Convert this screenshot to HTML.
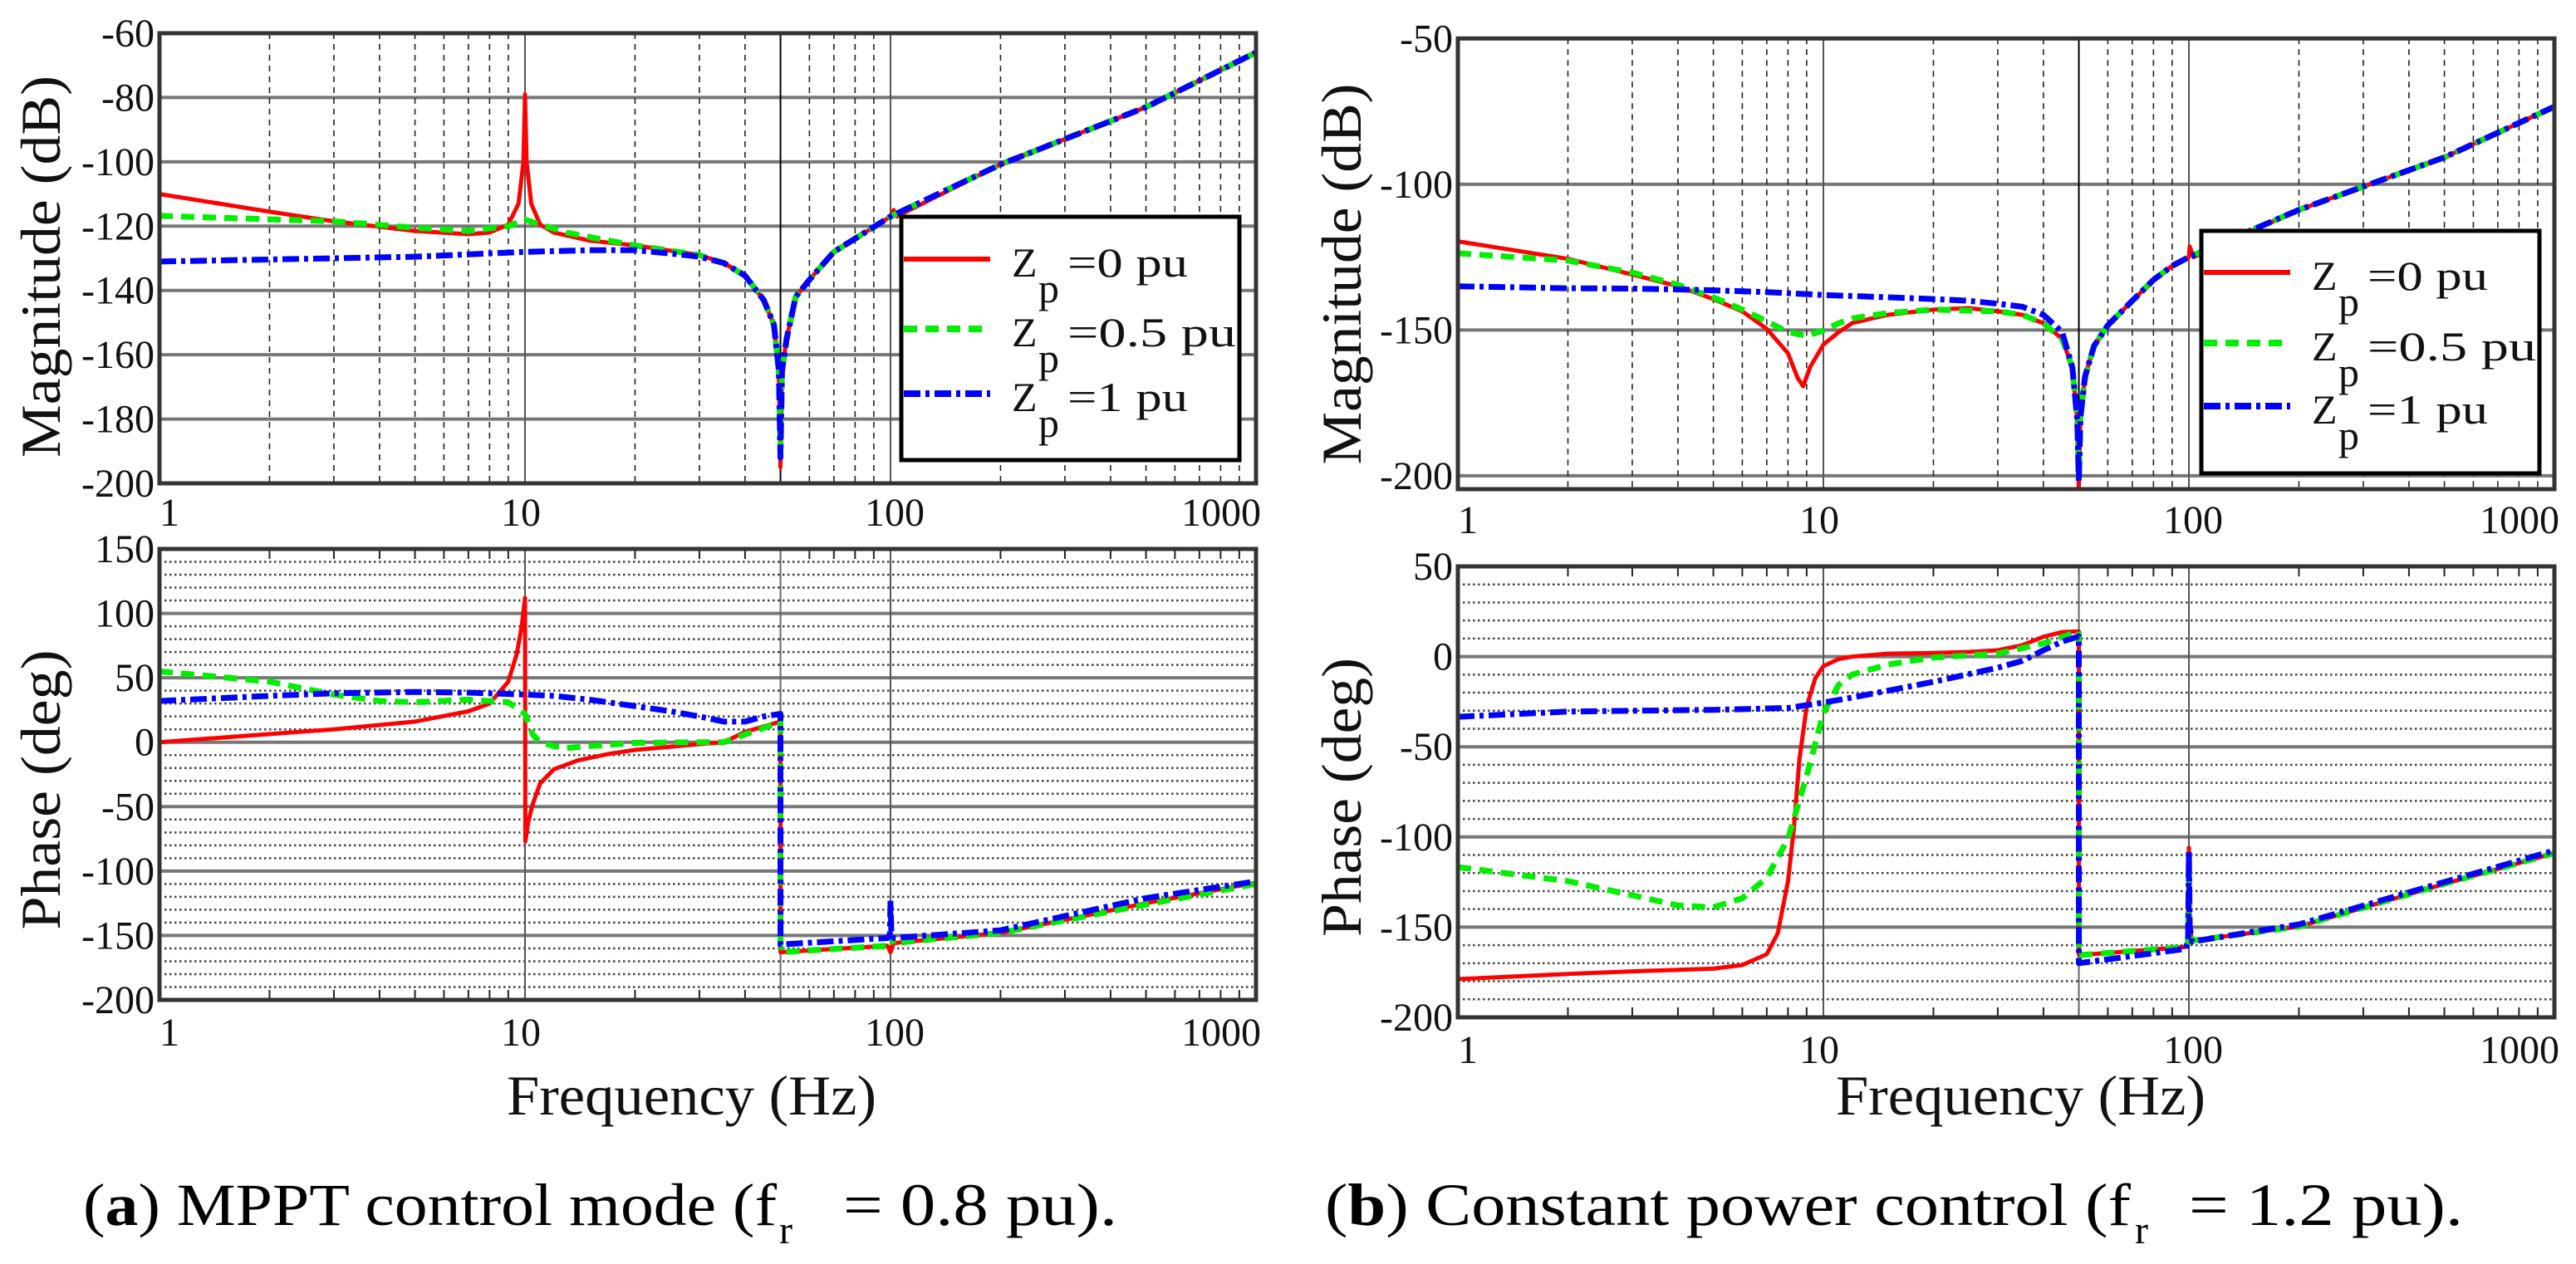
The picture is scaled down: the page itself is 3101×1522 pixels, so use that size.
<!DOCTYPE html>
<html><head><meta charset="utf-8"><style>
html,body{margin:0;padding:0;background:#fff;}
svg{display:block;font-family:"Liberation Serif",serif;}
</style></head><body>
<svg id="fig" width="3101" height="1522" viewBox="0 0 3101 1522" xmlns="http://www.w3.org/2000/svg">
<rect x="0" y="0" width="3101" height="1522" fill="#fff"/>
<g id="layer"></g>
<text x="100" y="1475" font-size="72" textLength="835" lengthAdjust="spacingAndGlyphs">(<tspan font-weight="bold">a</tspan>) MPPT control mode (f</text>
<text x="938" y="1497" font-size="48">r</text>
<text x="1015" y="1475" font-size="72" textLength="330" lengthAdjust="spacingAndGlyphs">= 0.8 pu).</text>
<text x="1595" y="1475" font-size="72" textLength="970" lengthAdjust="spacingAndGlyphs">(<tspan font-weight="bold">b</tspan>) Constant power control (f</text>
<text x="2570" y="1497" font-size="48">r</text>
<text x="2635" y="1475" font-size="72" textLength="330" lengthAdjust="spacingAndGlyphs">= 1.2 pu).</text>
</svg>
<script>
// ===== Panel (a) magnitude data =====
const aMagRedF = [1,2,3,5,7,8,9,9.6,9.9,10,10.1,10.4,11,12,15,20,30,35,40,45,48,49.5,50,50.5,52,55,60,70,100,102,104,200,500,1000];
const aMagRedV = [-110,-115.5,-118.5,-121.5,-122.5,-122,-119.5,-113,-100,-79,-100,-113,-119.5,-122,-124.5,-126,-129,-131.5,-135.4,-143,-150.7,-165,-195,-165,-155,-142,-136.7,-128,-117,-115,-117,-100.8,-83,-66];
const aMagGreenF = [1,3,5,7,9,10,11,13,16,20,30,35,40,45,48,49.5,50,50.5,52,55,60,70,100,200,500,1000];
const aMagGreenV = [-116.8,-118.5,-120.5,-121.5,-120,-118,-119.5,-122,-124,-126,-129,-131.5,-135.4,-143,-150.7,-165,-190,-165,-155,-142,-136.7,-128,-117,-100.8,-83,-66];
const aMagBlueF = [1,3,5,10,15,20,25,30,35,40,45,48,49.5,50,50.5,52,55,60,70,100,200,500,1000];
const aMagBlueV = [-131,-130,-129.5,-128,-127.5,-127.5,-128.5,-129.5,-131.5,-135.4,-143,-150.7,-165,-192,-165,-155,-142,-136.7,-128,-117,-100.8,-83,-66];
// ===== Panel (a) phase data =====
const aPhRedF = [1,3,5,7,8,9,9.5,9.8,10,10.02,10.2,10.5,11,12,14,17,20,30,35,40,50,50.02,98,100,102,110,200,500,1000];
const aPhRedV = [0,10,16,24,30,47,69,90,112,-77,-62,-48,-32,-21,-14,-9,-6,-1.5,0,8,16,-163,-158,-163,-156,-155,-148,-125,-109];
const aPhGreenF = [1,2,3,4,5,7,9,10,10.5,11,12,13,15,20,30,35,40,45,50,50.02,98,100,102,110,200,500,1000];
const aPhGreenV = [55,47,37,32,31,33,31,22,6,0,-3,-4.5,-3,-0.5,0,0,6,11,16,-163,-158,-150,-157,-155,-148,-126,-110];
const aPhBlueF = [1,2,3,5,7,10,12,15,20,25,30,35,40,45,50,50.02,98,99.6,100,100.5,102,200,500,1000];
const aPhBlueV = [32,36,38,39,38.5,37,36,33,28,24,20,16,16,20,22,-157,-152,-150,-123,-148,-152,-146,-121,-108];
// ===== Panel (b) magnitude data =====
const bMagRedF = [1,2,3,4,5,6,7,8,8.5,8.8,9.2,10,11,12,15,20,25,30,35,40,45,48,49.5,50,50.5,52,55,60,70,80,90,100,100.5,103,200,500,1000];
const bMagRedV = [-119.6,-125.6,-131,-135,-139.4,-143.6,-149.6,-158,-166.4,-169.3,-162.7,-155,-150.8,-147.6,-144.8,-143,-142.5,-143.6,-144.8,-147.7,-153,-162.8,-180.7,-204.6,-180,-166,-155.5,-148.4,-140,-132.8,-128,-125,-121.4,-125,-108.8,-90.8,-73.4];
const bMagGreenF = [1,2,3,4,5,6,7,8,9,10,11,12,15,20,30,35,40,45,48,49.5,50,50.5,52,55,60,70,80,90,100,200,500,1000];
const bMagGreenV = [-123.7,-126.2,-130.3,-134.5,-138.8,-143,-147,-150.7,-152,-150.2,-147.7,-146,-144.2,-143,-143.6,-144.8,-147.7,-153,-162.8,-180.7,-200,-180,-166,-155.5,-148.4,-140,-132.8,-128,-125,-108.8,-90.8,-73.4];
const bMagBlueF = [1,2,3,4,5,7,10,15,20,25,30,35,40,45,48,49.5,50,50.5,52,55,60,70,80,90,100,200,500,1000];
const bMagBlueV = [-135,-135.7,-135.8,-136.1,-136.4,-137,-138,-138.8,-139.4,-140,-141,-142,-144.8,-150.7,-162.8,-180.7,-202,-180,-166,-155.5,-148.4,-140,-132.8,-128,-125,-108.8,-90.8,-73.4];
// ===== Panel (b) phase data =====
const bPhRedF = [1,2,3,5,6,7,7.5,8,8.3,8.6,9,9.5,10,11,12,15,20,25,30,35,40,45,50,50.02,98,99.5,100,100.5,102,200,500,1000];
const bPhRedV = [-178.8,-175.9,-174.5,-173,-171,-165,-153.5,-124.5,-95.5,-56.7,-27.6,-12,-5.3,-1.4,0,1.6,2,2.6,3.5,6.3,11,13.6,14,-165.5,-161,-158,-106,-150,-157.5,-149.7,-126,-109];
const bPhGreenF = [1,2,3,4,5,6,7,8,9,10,11,12,15,20,30,40,50,50.02,98,99.5,100,100.5,102,200,500,1000];
const bPhGreenV = [-116.7,-124.5,-132.3,-138,-139,-134,-122.6,-101,-66,-31.5,-15.8,-10,-4.4,-0.5,1.6,7.3,14,-165.5,-161,-158,-110,-150,-157.5,-149.7,-126,-109];
const bPhBlueF = [1,2,3,5,8,10,12,15,20,30,35,40,45,50,50.02,98,99.5,100,100.5,102,200,500,1000];
const bPhBlueV = [-33.4,-30.5,-30,-29.5,-28.5,-25.5,-22.7,-18.9,-14,-6.2,-2.4,3.5,8.3,11.2,-170,-162,-158,-108,-150,-158,-148.5,-125,-107.5];
// ===== Axis ticks =====
const xTickVals = [1,10,100,1000];
const xTickLabels = ["1","10","100","1000"];
const aMagYTicks = [-60,-80,-100,-120,-140,-160,-180,-200];
const aPhYTicks = [150,100,50,0,-50,-100,-150,-200];
const bMagYTicks = [-50,-100,-150,-200];
const bPhYTicks = [50,0,-50,-100,-150,-200];
const legendLabels = ["=0 pu","=0.5 pu","=1 pu"];

const NS = "http://www.w3.org/2000/svg";
const layer = document.getElementById('layer');
function mk(tag, attrs, parent){
  const e = document.createElementNS(NS, tag);
  for (const k in attrs) e.setAttribute(k, attrs[k]);
  (parent||layer).appendChild(e);
  return e;
}
const STY = [
  {stroke:'#ff0000', w:5, dash:''},
  {stroke:'#00ee00', w:7, dash:'16 10'},
  {stroke:'#0000ff', w:7, dash:'20 6 5 6'}
];
function panel(p){
  const g = mk('g', {});
  
  
  const xs = f => p.x0 + (p.x1 - p.x0) * Math.log10(f) / 3;
  const ys = v => p.y0 + (p.vTop - v) / (p.vTop - p.vBot) * (p.y1 - p.y0);
  if (p.phase){
    for (let v = p.vBot; v <= p.vTop; v += 10){
      if (v % 50 === 0) continue;
      const l = mk('line', {x1:p.x0, x2:p.x1, y1:ys(v), y2:ys(v), stroke:'#444', 'stroke-width':2.5, 'stroke-dasharray':'2.5 3.5'}, g);
      
      
    }
  }
  p.yTicks.forEach(v => {
    const y = ys(v);
    const l = mk('line', {x1:p.x0, x2:p.x1, y1:y, y2:y, stroke:'#777', 'stroke-width':4}, g);
    
    
    const t = mk('text', {x:p.x0 - 6, y:y + 16, 'text-anchor':'end', 'font-size':48, fill:'#111'}, g);
    t.textContent = String(v);
    
    
  });
  [1,10,100].forEach(d => {
    for (let m = 2; m <= 9; m++){
      const x = xs(d*m);
      if (!p.phase){
        if (m !== 5 || d !== 10){
          const l = mk('line', {x1:x, x2:x, y1:p.y0, y2:p.y1, stroke:'#222', 'stroke-width':1.6, 'stroke-dasharray':'7 6'}, g);
          
          
        }
      } else {
        const l1 = mk('line', {x1:x, x2:x, y1:p.y0, y2:p.y0 + 12, stroke:'#222', 'stroke-width':2}, g);
        
        
        const l2 = mk('line', {x1:x, x2:x, y1:p.y1 - 12, y2:p.y1, stroke:'#222', 'stroke-width':2}, g);
        
        
      }
    }
  });
  [10,100].forEach(f => {
    const l = mk('line', {x1:xs(f), x2:xs(f), y1:p.y0, y2:p.y1, stroke:'#555', 'stroke-width':2}, g);
    
    
  });
  const l50 = mk('line', {x1:xs(50), x2:xs(50), y1:p.y0, y2:p.y1, stroke:p.phase ? '#666' : '#000', 'stroke-width':2}, g);
  
  
  const offs = [12,-5,5,-42];
  xTickVals.forEach((f, i) => {
    const t = mk('text', {x:xs(f) + offs[i], y:p.xLabY, 'text-anchor':'middle', 'font-size':48, fill:'#111'}, g);
    t.textContent = xTickLabels[i];
    
    
  });
  p.series.forEach((s, i) => {
    const pts = s.f.map((f, k) => xs(f).toFixed(1) + ',' + ys(Math.max(s.v[k], p.vBot)).toFixed(1)).join(' ');
    const a = {points:pts, fill:'none', stroke:STY[i].stroke, 'stroke-width':STY[i].w, 'stroke-linejoin':'round'};
    if (STY[i].dash) a['stroke-dasharray'] = STY[i].dash;
    const pl = mk('polyline', a, g);
    
    
  });
  const fr = mk('rect', {x:p.x0, y:p.y0, width:p.x1 - p.x0, height:p.y1 - p.y0, fill:'none', stroke:'#333', 'stroke-width':5}, g);
  
  
  const yt = mk('text', {x:0, y:0, 'font-size':68, 'text-anchor':'middle', textLength:p.ytLen, lengthAdjust:'spacingAndGlyphs', transform:'translate(' + p.ytX + ',' + p.ytY + ') rotate(-90)', fill:'#111'}, g);
  yt.textContent = p.ytitle;
  
  
  if (p.xtitle){
    const xt = mk('text', {x:p.xtX, y:1342, 'font-size':68, textLength:445, lengthAdjust:'spacingAndGlyphs', fill:'#111'}, g);
    xt.textContent = 'Frequency (Hz)';
    
    
  }
  if (p.legend){
    const L = p.legend;
    const lg = mk('g', {}, g);
    
    
    const bx = mk('rect', {x:L.x, y:L.y, width:407, height:L.h, fill:'#fff', stroke:'#000', 'stroke-width':5}, lg);
    
    
    legendLabels.forEach((lab, i) => {
      const ly = L.lineY[i];
      const a = {x1:L.x + 3, x2:L.x + 107, y1:ly, y2:ly, stroke:STY[i].stroke, 'stroke-width':STY[i].w + 1};
      if (STY[i].dash) a['stroke-dasharray'] = STY[i].dash;
      const sw = mk('line', a, lg);
      
      
      const t1 = mk('text', {x:L.x + 133, y:ly + 21, 'font-size':50, fill:'#111'}, lg);
      t1.textContent = 'Z';
      
      
      const t2 = mk('text', {x:L.x + 165, y:ly + 52, 'font-size':50, fill:'#111'}, lg);
      t2.textContent = 'p';
      
      
      const t3 = mk('text', {x:L.x + 200, y:ly + 21, 'font-size':50, fill:'#111', textLength:(lab.length * 29), lengthAdjust:'spacingAndGlyphs'}, lg);
      t3.textContent = lab;
      
      
    });
  }
}
panel({name:'panel-a-magnitude', x0:192, x1:1512, y0:40, y1:582, vTop:-60, vBot:-200, phase:false,
  yTicks:aMagYTicks, xLabY:633, ytitle:'Magnitude (dB)', ytX:72, ytY:321, ytLen:460,
  series:[{name:'a-mag-zp0', f:aMagRedF, v:aMagRedV},{name:'a-mag-zp05', f:aMagGreenF, v:aMagGreenV},{name:'a-mag-zp1', f:aMagBlueF, v:aMagBlueV}],
  legend:{x:1085, y:261, h:293, lineY:[312,396,474]}});
panel({name:'panel-a-phase', x0:192, x1:1512, y0:661, y1:1204, vTop:150, vBot:-200, phase:true,
  yTicks:aPhYTicks, xLabY:1259, ytitle:'Phase (deg)', ytX:72, ytY:951, ytLen:337, xtitle:true, xtX:610,
  series:[{name:'a-phase-zp0', f:aPhRedF, v:aPhRedV},{name:'a-phase-zp05', f:aPhGreenF, v:aPhGreenV},{name:'a-phase-zp1', f:aPhBlueF, v:aPhBlueV}]});
panel({name:'panel-b-magnitude', x0:1755, x1:3075, y0:46.3, y1:589, vTop:-50, vBot:-204.6, phase:false,
  yTicks:bMagYTicks, xLabY:642, ytitle:'Magnitude (dB)', ytX:1638, ytY:330, ytLen:459,
  series:[{name:'b-mag-zp0', f:bMagRedF, v:bMagRedV},{name:'b-mag-zp05', f:bMagGreenF, v:bMagGreenV},{name:'b-mag-zp1', f:bMagBlueF, v:bMagBlueV}],
  legend:{x:2650, y:278, h:292, lineY:[328,413,489]}});
panel({name:'panel-b-phase', x0:1755, x1:3075, y0:682, y1:1225, vTop:50, vBot:-200, phase:true,
  yTicks:bPhYTicks, xLabY:1280, ytitle:'Phase (deg)', ytX:1638, ytY:960, ytLen:336, xtitle:true, xtX:2210,
  series:[{name:'b-phase-zp0', f:bPhRedF, v:bPhRedV},{name:'b-phase-zp05', f:bPhGreenF, v:bPhGreenV},{name:'b-phase-zp1', f:bPhBlueF, v:bPhBlueV}]});
</script>
</body></html>
